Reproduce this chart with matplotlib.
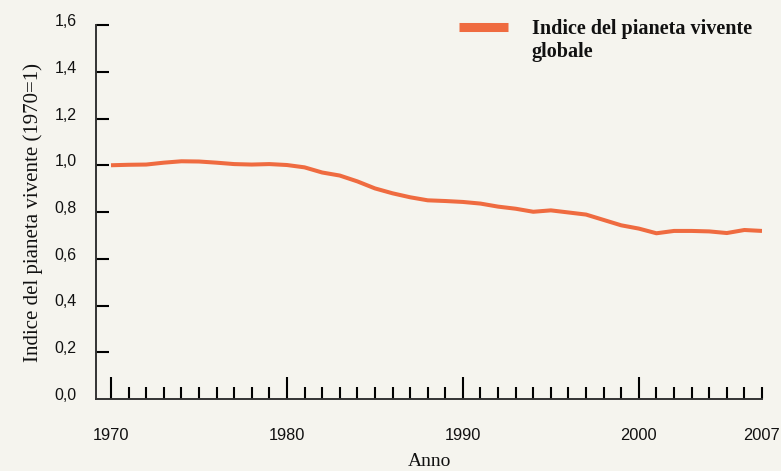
import matplotlib
matplotlib.use("Agg")
import matplotlib.pyplot as plt
from matplotlib.lines import Line2D
from matplotlib.ticker import FixedLocator
import matplotlib.transforms as mtransforms

years = list(range(1970, 2008))
lpi = [1.000, 1.002, 1.003, 1.011, 1.017, 1.016, 1.011, 1.005, 1.003, 1.005,
       1.001, 0.991, 0.969, 0.956, 0.931, 0.901, 0.880, 0.863, 0.850, 0.847,
       0.843, 0.836, 0.823, 0.814, 0.801, 0.807, 0.798, 0.789, 0.766, 0.743,
       0.729, 0.709, 0.719, 0.719, 0.717, 0.710, 0.723, 0.719]
xtick_labels = [1970, 1980, 1990, 2000, 2007]
ytick_vals = [0.0, 0.2, 0.4, 0.6, 0.8, 1.0, 1.2, 1.4, 1.6]
series_label = "Indice del pianeta vivente\nglobale"

BG = "#F5F4EE"
LINE = "#EF6B40"

fig = plt.figure(figsize=(7.81, 4.71), dpi=100, facecolor=BG)
ax = fig.add_axes([96/781, 1-399/471, (762-96)/781, (399-25)/471], facecolor=BG)

ax.plot(years, lpi, color=LINE, lw=2.9, solid_capstyle="butt", zorder=3)

ax.set_xlim(1970 - 15/17.6, 2007)
ax.set_ylim(0, 1.6)

for s in ["top", "right"]:
    ax.spines[s].set_visible(False)
for s in ["left", "bottom"]:
    ax.spines[s].set_color("#333333")
    ax.spines[s].set_linewidth(1.4)

# y ticks
ax.set_yticks(ytick_vals)
ax.set_yticklabels([f"{v:.1f}".replace(".", ",") for v in ytick_vals],
                   fontfamily="Liberation Sans", fontsize=11.5, color="#111111")
ax.tick_params(axis="y", direction="in", length=9.4, width=1.5, pad=14, color="black")
off = mtransforms.ScaledTranslation(0, 0.05, fig.dpi_scale_trans)
for lab in ax.get_yticklabels():
    lab.set_transform(lab.get_transform() + off)
ax.yaxis.get_major_ticks()[0].tick1line.set_visible(False)

# x ticks
ax.xaxis.set_major_locator(FixedLocator([1970, 1980, 1990, 2000]))
ax.xaxis.set_minor_locator(FixedLocator([y for y in years if y % 10 != 0]))
ax.set_xticklabels([])
ax.tick_params(axis="x", which="major", direction="in", length=15.8, width=1.5, color="black")
ax.tick_params(axis="x", which="minor", direction="in", length=8.6, width=1.5, color="black")
for yr in xtick_labels:
    ax.annotate(str(yr), xy=(yr, 0), xycoords=("data", "axes fraction"),
                xytext=(0, -36), textcoords="offset pixels", ha="center", va="center",
                fontfamily="Liberation Sans", fontsize=11.8, color="#111111")

ax.set_ylabel("Indice del pianeta vivente (1970=1)", fontfamily="Liberation Serif",
              fontsize=15, color="#111111")
ax.yaxis.set_label_coords(-(96-43)/666, 0.5)
fig.text(429/781, 1-461/471, "Anno", ha="center", va="center",
         fontfamily="Liberation Serif", fontsize=14, color="#111111")

# legend
fig.add_artist(Line2D([459/781, 508/781], [1-27/471, 1-27/471], color=LINE, lw=6.5,
                      solid_capstyle="butt", transform=fig.transFigure))
fig.text(532/781, 1-19/471, series_label, ha="left", va="top",
         fontfamily="Liberation Serif", fontweight="bold", fontsize=14.5,
         color="#111111", linespacing=1.2)

fig.savefig("out.png", dpi=100, facecolor=BG)
